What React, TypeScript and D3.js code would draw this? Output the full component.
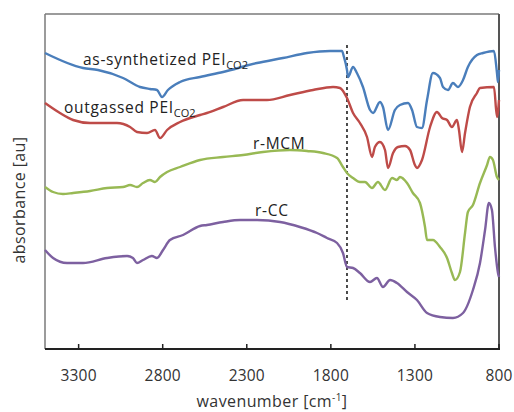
import React from "react";
import * as d3 from "d3";

// wavenumber (cm-1) and absorbance (a.u.)
const blueW = [3500,3274,3185,3036,2935,2876,2834,2804,2769,2697,2578,2441,2239,2085,1942,1805,1734,1722,1704,1698,1668,1645,1609,1567,1549,1508,1490,1460,1419,1389,1341,1317,1288,1258,1228,1193,1151,1133,1103,1074,1044,1014,985,931,895,830,812,806,800];
const blueA = [2.96,2.81,2.79,2.71,2.62,2.60,2.59,2.52,2.59,2.67,2.72,2.77,2.86,2.91,2.96,2.98,2.98,2.92,2.79,2.72,2.82,2.76,2.62,2.39,2.36,2.47,2.42,2.19,2.39,2.44,2.46,2.39,2.22,2.21,2.49,2.76,2.71,2.62,2.59,2.66,2.62,2.69,2.82,2.94,2.96,2.98,2.76,2.67,2.79];

const redW = [3500,3411,3333,3232,3072,2994,2953,2893,2846,2816,2774,2697,2578,2537,2441,2322,2180,2043,1906,1787,1746,1704,1668,1627,1585,1555,1538,1508,1478,1460,1430,1401,1359,1329,1300,1288,1258,1210,1169,1139,1109,1080,1050,1038,1020,1002,973,931,913,830,812,800];
const redA = [2.46,2.36,2.29,2.26,2.26,2.22,2.17,2.16,2.19,2.11,2.19,2.27,2.34,2.36,2.42,2.49,2.49,2.54,2.59,2.62,2.61,2.51,2.36,2.26,2.12,1.92,2.02,2.07,1.99,1.81,1.96,2.02,2.03,1.99,1.84,1.81,1.89,2.22,2.37,2.31,2.29,2.22,2.29,2.19,1.97,2.16,2.42,2.56,2.61,2.62,2.32,2.49];

const greenW = [3500,3452,3393,3333,3232,3131,3036,2994,2953,2917,2876,2846,2816,2774,2697,2578,2441,2322,2204,2043,1942,1847,1763,1728,1704,1668,1627,1597,1555,1520,1478,1436,1407,1389,1347,1312,1270,1240,1228,1193,1151,1109,1080,1062,1032,1002,985,955,913,871,854,836,812,800];
const greenA = [1.62,1.57,1.55,1.56,1.58,1.61,1.62,1.64,1.62,1.66,1.69,1.67,1.72,1.77,1.82,1.89,1.92,1.94,1.97,1.99,1.98,1.96,1.91,1.82,1.76,1.71,1.67,1.67,1.61,1.67,1.59,1.71,1.69,1.72,1.66,1.56,1.46,1.22,1.09,1.09,1.02,0.91,0.76,0.69,0.77,1.16,1.37,1.44,1.66,1.84,1.92,1.89,1.72,1.69];

const purpleW = [3500,3452,3369,3274,3131,3012,2977,2953,2917,2864,2834,2798,2757,2679,2578,2537,2441,2340,2239,2102,1984,1882,1823,1763,1728,1704,1668,1627,1567,1526,1490,1448,1407,1347,1288,1228,1151,1074,1014,955,913,883,860,842,824,806,800];
const purpleA = [0.99,0.91,0.86,0.86,0.91,0.93,0.91,0.86,0.89,0.93,0.91,0.99,1.09,1.14,1.23,1.24,1.27,1.29,1.29,1.27,1.22,1.16,1.11,1.06,0.96,0.82,0.81,0.76,0.67,0.71,0.62,0.69,0.66,0.57,0.49,0.36,0.32,0.31,0.36,0.59,0.86,1.19,1.46,1.39,1.02,0.76,0.72];

const seriesNames = ["as-synthetized PEI", "outgassed PEI", "r-MCM", "r-CC"];
const seriesSubs = ["CO2", "CO2", "", ""];
const seriesColors = ["#4a7ebb", "#be4b48", "#98b954", "#7d60a0"];
// label anchors (wavenumber, absorbance)
const labelW = [3274, 3387, 2263, 2251];
const labelA = [2.84, 2.36, 2.0, 1.33];

const xTicks = [3300, 2800, 2300, 1800, 1300, 800];
const markerW = 1704;
const markerA = [3.04, 0.46];

const W = 514, H = 412;
const L = 45, R = 499, T = 14, B = 349;

export default function App() {
  const x = d3.scaleLinear().domain([3500, 800]).range([L, R]);
  const y = d3.scaleLinear().domain([0, 3.35]).range([B, T]);
  const ws = [blueW, redW, greenW, purpleW];
  const as = [blueA, redA, greenA, purpleA];
  const line = d3
    .line<[number, number]>()
    .x((d) => x(d[0]))
    .y((d) => y(d[1]))
    .curve(d3.curveMonotoneX);
  const font = "'Open Sans', 'DejaVu Sans', sans-serif";
  return (
    <svg width={W} height={H} style={{ position: "absolute", left: 0, top: 0, background: "#fff" }} fontFamily={font}>
      <rect x={0} y={0} width={W} height={H} fill="#fff" />
      {/* frame */}
      <line x1={L} y1={T} x2={R} y2={T} stroke="#7a7a7a" strokeWidth={1.5} />
      <line x1={L} y1={T} x2={L} y2={B} stroke="#7a7a7a" strokeWidth={1.5} />
      <line x1={R} y1={T} x2={R} y2={B} stroke="#555" strokeWidth={2} />
      <line x1={L} y1={B} x2={R + 1} y2={B} stroke="#222" strokeWidth={2} />
      {xTicks.map((t) => (
        <g key={t}>
          <line x1={x(t)} x2={x(t)} y1={B} y2={B - 5} stroke="#222" strokeWidth={1.5} />
          <text x={x(t)} y={381} textAnchor="middle" fontSize={15.5} fill="#333" letterSpacing={0.2}>
            {t}
          </text>
        </g>
      ))}
      {/* dashed marker */}
      <line
        x1={x(markerW)}
        x2={x(markerW)}
        y1={y(markerA[0])}
        y2={y(markerA[1])}
        stroke="#111"
        strokeWidth={1.5}
        strokeDasharray="3,3"
      />
      {ws.map((wArr, i) => {
        const pts: [number, number][] = wArr.map((w, j) => [w, as[i][j]]);
        return (
          <path key={i} d={line(pts) || ""} fill="none" stroke={seriesColors[i]} strokeWidth={2.4} strokeLinejoin="round" />
        );
      })}
      {seriesNames.map((n, i) => (
        <text key={n} x={x(labelW[i])} y={y(labelA[i])} fontSize={15.5} fill="#222" letterSpacing={0.7}>
          {n}
          {seriesSubs[i] && (
            <tspan fontSize={11} dy={4} letterSpacing={0}>
              {seriesSubs[i]}
            </tspan>
          )}
        </text>
      ))}
      <text x={272} y={407} textAnchor="middle" fontSize={16} fill="#333" letterSpacing={0.4}>
        wavenumber [cm
        <tspan fontSize={10} dy={-6}>-1</tspan>
        <tspan dy={6}>]</tspan>
      </text>
      <text transform="translate(25,200) rotate(-90)" textAnchor="middle" fontSize={16} fill="#333" letterSpacing={0.4}>
        absorbance [au]
      </text>
    </svg>
  );
}
